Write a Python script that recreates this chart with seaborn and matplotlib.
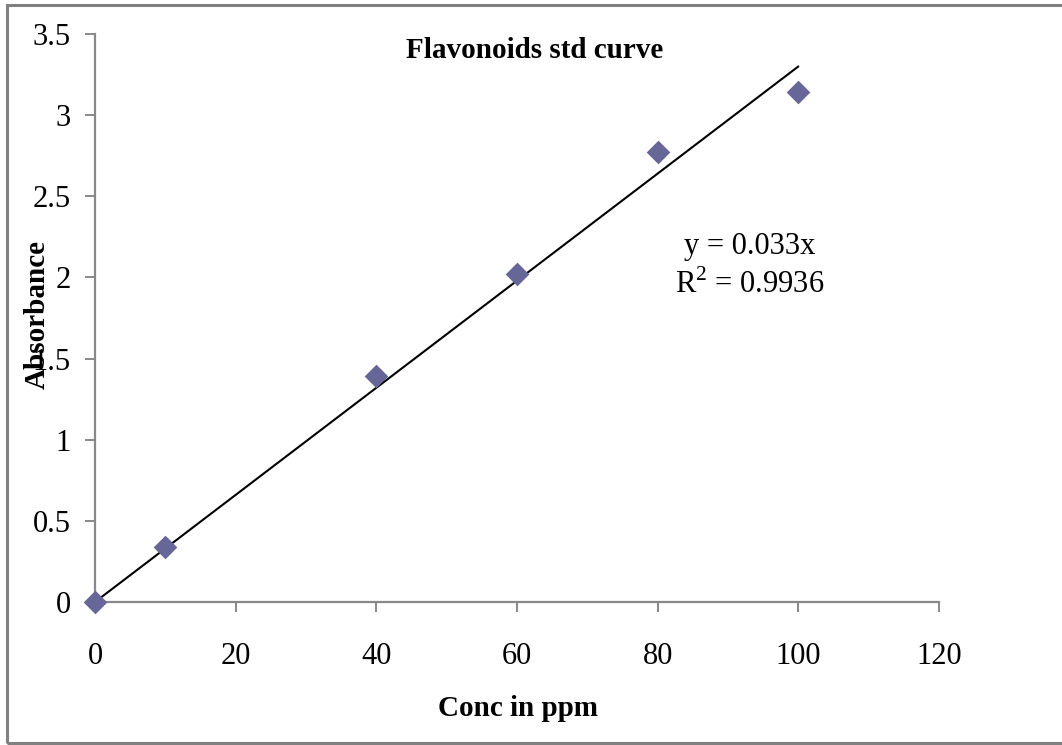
import matplotlib
matplotlib.use("Agg")
import matplotlib.pyplot as plt
import seaborn as sns
import pandas as pd
from matplotlib.patches import Rectangle

# Data
conc = [0, 10, 40, 60, 80, 100]
absorbance = [0.0, 0.34, 1.39, 2.02, 2.77, 3.14]
trend_x = [0, 100]
trend_y = [0.0, 3.3]
x_ticks = [0, 20, 40, 60, 80, 100, 120]
y_ticks = [0, 0.5, 1, 1.5, 2, 2.5, 3, 3.5]
y_tick_labels = ["0", "0.5", "1", "1.5", "2", "2.5", "3", "3.5"]
title = "Flavonoids std curve"
x_label = "Conc in ppm"
y_label = "Absorbance"
eq_text = "y = 0.033x"
r2_text = "R$^2$ = 0.9936"

sns.set_theme(style="white")
plt.rcParams["font.family"] = ["Liberation Serif", "DejaVu Serif"]
plt.rcParams["mathtext.fontset"] = "custom"
plt.rcParams["mathtext.rm"] = "Liberation Serif"
plt.rcParams["text.color"] = "black"

W, H = 1062, 745
fig = plt.figure(figsize=(W / 100, H / 100), dpi=100)
fig.patch.set_facecolor("white")

# Figure border (left, top, bottom visible)
fig.add_artist(Rectangle((7 / W, 1 - 743 / H), (1080 - 7) / W, (743 - 5) / H,
                         transform=fig.transFigure, fill=False,
                         edgecolor="#808080", linewidth=2.2, clip_on=False))

left, right, top, bottom = 95, 939, 34, 602
ax = fig.add_axes([left / W, 1 - bottom / H, (right - left) / W, (bottom - top) / H])

df = pd.DataFrame({"conc": conc, "abs": absorbance})
tr = pd.DataFrame({"x": trend_x, "y": trend_y})

sns.lineplot(data=tr, x="x", y="y", ax=ax, color="black", linewidth=1.5, zorder=2)
sns.scatterplot(data=df, x="conc", y="abs", ax=ax, marker="D", s=145,
                color="#666699", edgecolor="#666699", linewidth=0, zorder=3,
                clip_on=False)

ax.set_xlim(0, 120)
ax.set_ylim(0, 3.5)
ax.set_xticks(x_ticks)
ax.set_yticks(y_ticks)
ax.set_yticklabels(y_tick_labels)
ax.set_xlabel("")
ax.set_ylabel("")

for s in ["top", "right"]:
    ax.spines[s].set_visible(False)
for s in ["left", "bottom"]:
    ax.spines[s].set_color("#888888")
    ax.spines[s].set_linewidth(1.6)

ax.tick_params(axis="both", which="major", direction="out", length=7.5,
               width=1.4, color="#888888", labelsize=22, labelcolor="black",
               bottom=True, left=True, top=False, right=False)
ax.tick_params(axis="x", pad=21)
ax.tick_params(axis="y", pad=10)
ax.set_facecolor("white")

fig.text(535 / W, 1 - 50 / H, title, ha="center", va="center",
         fontsize=21, fontweight="bold", color="black")
fig.text(518 / W, 1 - 709 / H, x_label, ha="center", va="center",
         fontsize=21, fontweight="bold", color="black")
fig.text(37 / W, 1 - 315 / H, y_label, ha="center", va="center",
         fontsize=21, fontweight="bold", rotation=90, color="black")

fig.text(750 / W, 1 - 246 / H, eq_text, ha="center", va="center", fontsize=22,
         color="black")
fig.text(750 / W, 1 - 285 / H, r2_text, ha="center", va="center", fontsize=22,
         color="black")

fig.savefig("out.png", dpi=100, facecolor="white")
